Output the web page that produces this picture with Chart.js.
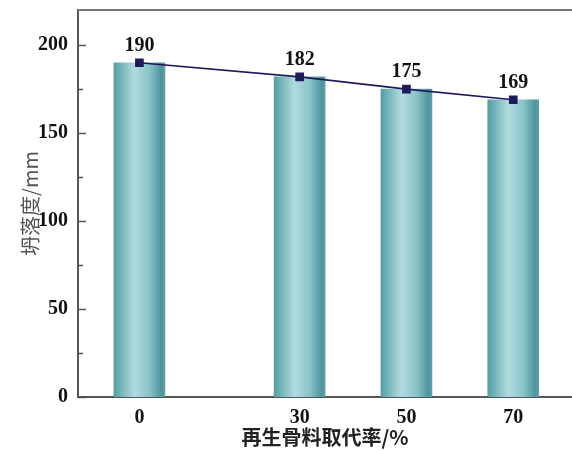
<!DOCTYPE html>
<html>
<head>
<meta charset="utf-8">
<script src="https://cdn.jsdelivr.net/npm/chart.js@4"></script>
<style>
  html, body { margin: 0; padding: 0; background: #fff; }
  #wrap { width: 572px; height: 450px; }
</style>
</head>
<body>
<div id="wrap"><canvas id="grafik"></canvas></div>
<script>
// data
var oranlar = [0, 30, 50, 70];          // 再生骨料取代率 (%)
var cokme = [190, 182, 175, 169];        // 坍落度 (mm)
var yTikler = [0, 25, 50, 75, 100, 125, 150, 175, 200];
var xBaslik = '再生骨料取代率/%';
var yBaslik = '坍落度/mm';

var serif = "'Liberation Serif', 'Times New Roman', serif";
var cjk = "'Noto Sans CJK SC', 'Liberation Serif', serif";
var barGenislik = 51;

var barVeri = oranlar.map(function(o, i) { return { x: o, y: cokme[i] }; });
var cizgiVeri = oranlar.map(function(o, i) { return { x: o, y: cokme[i] }; });

function barRenk(c) {
  var xs = c.chart.scales.x;
  if (!xs || !c.raw) return '#7dbdc3';
  var cx = xs.getPixelForValue(c.raw.x);
  if (!isFinite(cx)) return '#7dbdc3';
  var g = c.chart.ctx.createLinearGradient(cx - barGenislik / 2, 0, cx + barGenislik / 2, 0);
  g.addColorStop(0, '#559ca4');
  g.addColorStop(0.12, '#6fb1b7');
  g.addColorStop(0.4, '#b1dbde');
  g.addColorStop(0.7, '#89c3c8');
  g.addColorStop(0.93, '#4e959d');
  g.addColorStop(1, '#5ca1a8');
  return g;
}

function kenarSifirla(s) {
  s.paddingTop = 0;
  s.paddingBottom = 0;
  s.paddingLeft = 0;
  s.paddingRight = 0;
}

// inward tick marks, top frame line and value labels
var ekstra = {
  id: 'ekstra',
  afterDraw: function(chart) {
    var ctx = chart.ctx;
    var a = chart.chartArea;
    var ys = chart.scales.y;
    ctx.save();
    ctx.strokeStyle = '#555';
    ctx.lineWidth = 1.5;
    yTikler.forEach(function(v) {
      var py = Math.round(ys.getPixelForValue(v)) + 0.5;
      var uz = (v % 50 === 0) ? 8 : 5;
      ctx.beginPath();
      ctx.moveTo(a.left, py);
      ctx.lineTo(a.left + uz, py);
      ctx.stroke();
    });
    ctx.strokeStyle = '#777';
    ctx.lineWidth = 2;
    ctx.beginPath();
    ctx.moveTo(a.left, a.top);
    ctx.lineTo(a.right, a.top);
    ctx.stroke();

    var meta = chart.getDatasetMeta(1);
    ctx.fillStyle = '#111';
    ctx.font = 'bold 20px ' + serif;
    ctx.textAlign = 'center';
    ctx.textBaseline = 'middle';
    meta.data.forEach(function(el, i) {
      ctx.fillText(String(cokme[i]), el.x, el.y - 17);
    });
    ctx.restore();
  }
};

new Chart(document.getElementById('grafik'), {
  data: {
    datasets: [
      {
        type: 'bar',
        data: barVeri,
        backgroundColor: barRenk,
        borderWidth: 0,
        barThickness: barGenislik,
        order: 2
      },
      {
        type: 'line',
        data: cizgiVeri,
        borderColor: '#1d1b5c',
        borderWidth: 1.6,
        pointStyle: 'rect',
        pointRadius: 5,
        pointBackgroundColor: '#1d1b5c',
        pointBorderColor: '#1d1b5c',
        tension: 0,
        order: 1
      }
    ]
  },
  options: {
    responsive: true,
    maintainAspectRatio: false,
    animation: false,
    layout: { autoPadding: false, padding: { top: 10, left: 0, right: 0, bottom: 0 } },
    plugins: {
      legend: { display: false },
      tooltip: { enabled: false }
    },
    scales: {
      x: {
        type: 'linear',
        offset: false,
        min: -11.5,
        max: 81,
        afterBuildTicks: function(s) {
          s.ticks = oranlar.map(function(v) { return { value: v }; });
        },
        afterFit: function(s) { s.height = 53; kenarSifirla(s); },
        grid: { display: false },
        border: { display: true, color: '#555', width: 2 },
        ticks: {
          color: '#111',
          font: { family: serif, size: 20, weight: 'bold' },
          padding: 1,
          maxRotation: 0,
          callback: function(v) { return String(v); }
        },
        title: {
          display: true,
          text: xBaslik,
          color: '#222',
          font: { family: cjk, size: 20, weight: 'bold' },
          padding: { top: 0, bottom: 1 }
        }
      },
      y: {
        min: 0,
        max: 220,
        afterBuildTicks: function(s) {
          s.ticks = yTikler.map(function(v) { return { value: v }; });
        },
        afterFit: function(s) { s.width = 78; kenarSifirla(s); },
        grid: { display: false },
        border: { display: true, color: '#555', width: 2 },
        ticks: {
          color: '#111',
          font: { family: serif, size: 20, weight: 'bold' },
          padding: 2,
          callback: function(v) { return (v % 50 === 0) ? String(v) : ''; }
        },
        title: {
          display: true,
          text: yBaslik,
          color: '#555',
          font: { family: cjk, size: 20, weight: 'normal' },
          padding: { top: 18, bottom: 0 }
        }
      }
    }
  },
  plugins: [ekstra]
});
</script>
</body>
</html>
